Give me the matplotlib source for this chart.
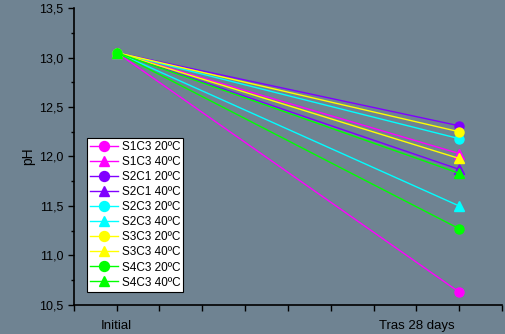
import numpy as np
import matplotlib.pyplot as plt

plt.rcParams['font.family'] = ['Liberation Sans', 'DejaVu Sans']

x_labels = ['Initial', 'Tras 28 days']
x_pos = [0, 8]

labels = ['S1C3 20ºC', 'S1C3 40ºC', 'S2C1 20ºC', 'S2C1 40ºC', 'S2C3 20ºC',
          'S2C3 40ºC', 'S3C3 20ºC', 'S3C3 40ºC', 'S4C3 20ºC', 'S4C3 40ºC']
ph_initial = [13.05, 13.05, 13.05, 13.05, 13.05, 13.05, 13.05, 13.05, 13.05, 13.05]
ph_28days = [10.63, 12.03, 12.31, 11.87, 12.18, 11.50, 12.25, 11.98, 11.27, 11.83]
colors = ['#ff00ff', '#ff00ff', '#8000ff', '#8000ff', '#00ffff',
          '#00ffff', '#ffff00', '#ffff00', '#00ff00', '#00ff00']
markers = ['o', '^', 'o', '^', 'o', '^', 'o', '^', 'o', '^']

bg = '#6f8392'
fig = plt.figure(figsize=(5.06, 3.34), dpi=100, facecolor=bg)
ax = fig.add_axes([0.146, 0.087, 0.846, 0.889], facecolor=bg)

for i in range(len(labels)):
    ax.plot(x_pos, [ph_initial[i], ph_28days[i]], color=colors[i], marker=markers[i],
            ms=6.5, lw=1, label=labels[i])

ax.set_xlim(-1, 9)
ax.set_ylim(10.5, 13.5)
ax.set_xticks(np.arange(-1, 10, 1))
ax.set_xticklabels(['', x_labels[0], '', '', '', '', '', '', x_labels[1], '', ''], fontsize=9.5)
ax.set_yticks(np.arange(10.5, 13.51, 0.5))
ax.set_yticklabels([('%.1f' % v).replace('.', ',') for v in np.arange(10.5, 13.51, 0.5)], fontsize=9)
ax.set_yticks(np.arange(10.75, 13.5, 0.5), minor=True)
ax.tick_params(axis='both', which='major', length=4, width=1, direction='out', colors='black')
ax.tick_params(axis='y', which='minor', length=2.5, width=1, direction='out')
ax.tick_params(axis='x', pad=7)
for s in ['top', 'right']:
    ax.spines[s].set_visible(False)
ax.spines['left'].set_linewidth(1.2)
ax.spines['bottom'].set_linewidth(1.2)

ax.set_ylabel('pH', fontsize=10, labelpad=3)

leg = ax.legend(loc='lower left', bbox_to_anchor=(0.03, 0.045), fontsize=8.5, frameon=True,
                fancybox=False, edgecolor='black', framealpha=1, borderpad=0.25,
                labelspacing=0.26, handlelength=2.4, handletextpad=0.3, markerscale=1.1,
                borderaxespad=0)
leg.get_frame().set_linewidth(0.8)

fig.savefig('out.png', dpi=100, facecolor=bg)
